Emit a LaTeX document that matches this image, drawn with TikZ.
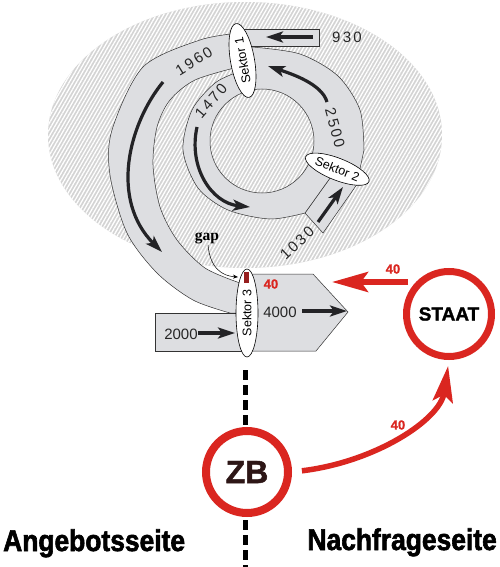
\documentclass[tikz,border=0pt]{standalone}
\usepackage{fontspec}
\setmainfont{Liberation Sans}
\newfontfamily\numfont[LetterSpace=15]{Liberation Sans}
\newfontfamily\plainfont{Liberation Sans}
\newfontfamily\heavyfont[FakeStretch=0.88,BoldFeatures={FakeBold=2}]{Liberation Sans}
\newfontfamily\thickfont[BoldFeatures={FakeBold=1.5}]{Liberation Sans}
\newfontfamily\gapfont{Liberation Serif}
\usetikzlibrary{arrows.meta,patterns.meta,shapes.geometric}
\definecolor{bandgray}{RGB}{221,222,225}
\definecolor{hatchbase}{RGB}{212,212,212}
\definecolor{arrdark}{RGB}{35,35,38}
\definecolor{redc}{RGB}{218,38,32}
\definecolor{markred}{RGB}{150,30,30}
\definecolor{zbtext}{RGB}{45,22,22}
\begin{document}
\begin{tikzpicture}[x=1pt,y=-1pt,
  band/.style={fill=bandgray,draw=black!80,line width=0.5pt},
  darr/.style={draw=arrdark,line width=3.2pt,-{Stealth[length=17pt,width=11pt,inset=4pt]}},
  sektor/.style={ellipse,draw=black,fill=white,line width=0.6pt,inner sep=0pt,
    font=\plainfont\fontsize{12.5}{14}\selectfont},
  num/.style={font=\numfont\fontsize{15}{18}\selectfont,text=black!85,inner sep=0pt},
  num2/.style={font=\plainfont\fontsize{15}{18}\selectfont,text=black!85,inner sep=0pt},
  redlab/.style={font=\thickfont\bfseries\fontsize{13}{15}\selectfont,text=redc,inner sep=0pt},
  redcircle/.style={circle,draw=redc,fill=white,inner sep=0pt},
  redarr/.style={draw=redc,line width=5.5pt,-{Stealth[length=36pt,width=20pt,inset=7pt]}},
  side/.style={font=\heavyfont\bfseries\fontsize{30}{36}\selectfont,inner sep=0pt}]
\path[use as bounding box,fill=white] (0,0) rectangle (500,567);
% hatched background
\fill[hatchbase] (245,135) ellipse [x radius=197pt,y radius=133pt];
\path[pattern={Lines[angle=60,distance=3.2pt,line width=1.3pt]},pattern color=white]
  (245,135) ellipse [x radius=197pt,y radius=133pt];
% 1030 strip
\draw[band] (334,172.5) -- (305,213) -- (323,233) -- (360,180) -- cycle;
% inner ring
\draw[band,even odd rule] (242,61) -- plot[smooth] coordinates {(252,47) (300,54) (338,76) (360,110) (364,150)}
  -- (358,178) -- (334,172.5)
  -- plot[smooth] coordinates {(305,213) (270,219) (228,210) (198,188) (183,150) (192,110) (215,83) (238,72)}
  -- cycle
  (262,141) circle [radius=52pt];
% 930 input
\draw[band] (240,29) rectangle (319,46);
% 1960 band
\draw[band] plot[smooth] coordinates {(240,33) (200,40) (143,67) (112,130) (110,175) (127,233) (157,273) (193,300) (230,313)}
  -- (242,313) -- (242,283)
  -- plot[smooth] coordinates {(240,283) (205,268) (177,240) (160,207) (153,165) (157,127) (170,100) (195,80) (238,67)}
  -- cycle;
% 2000 input and 4000 output
\draw[band] (155,313) rectangle (246,351);
\draw[band] (246,274) -- (313,274) -- (348,312) -- (316,351) -- (246,351) -- cycle;
% flow arrows
\draw[darr] (163,82) .. controls (128,125) and (110,200) .. (162,252);
\draw[darr] (197,127) .. controls (188,168) and (212,203) .. (250,207);
\draw[darr] (327,102) .. controls (322,84) and (292,74) .. (268,66);
\draw[darr] (318,222) -- (343,187);
\draw[darr] (313,37) -- (266,37);
\draw[darr] (198,333) -- (235,333);
\draw[darr] (302,311) -- (347,311);
% sectors
\node[sektor,rotate=100,minimum width=75pt,minimum height=24pt] (s1) at (242.5,60.5) {Sektor 1};
\node[sektor,rotate=-21.5,minimum width=68pt,minimum height=22pt] (s2) at (337.3,169.2) {Sektor 2};
\node[sektor,rotate=90,minimum width=88pt,minimum height=22pt] (s3) at (247,313) {Sektor 3};
\fill[markred] (244.3,271.7) rectangle (248.7,283.3);
% numbers
\node[num,rotate=32] at (194,61) {1960};
\node[num,rotate=49] at (211,101) {1470};
\node[num,rotate=-75] at (335,128) {2500};
\node[num,rotate=43] at (297,243) {1030};
\node[num] at (347,37) {930};
\node[num2] at (181,334) {2000};
\node[num2] at (280,312) {4000};
% gap
\node[font=\gapfont\bfseries\fontsize{15.5}{17}\selectfont,inner sep=1pt] (gap) at (207,238) {gap};
\draw[line width=0.5pt,-{Stealth[length=5pt,width=4pt]}] ([xshift=1pt]gap.south) .. controls (210,268) and (222,276) .. (238,277);
% dashed divider
\coordinate (dtop) at (245.5,370);
\coordinate (dbot) at (245.5,567);
\draw[line width=5.5pt,dash pattern=on 10pt off 5pt] (dtop) -- (dbot);
% STAAT and ZB
\node[redcircle,minimum size=85pt,line width=7pt,font=\thickfont\bfseries\fontsize{19}{22}\selectfont] (staat) at (449,314) {STAAT};
\node[redcircle,minimum size=82pt,line width=8pt,text=zbtext,font=\thickfont\bfseries\fontsize{32}{36}\selectfont] (zb) at (247,472) {ZB};
\coordinate (sout) at (408,282);
\coordinate (ptip) at (332,282);
\draw[redarr] (sout) -- (ptip);
\draw[redarr,shorten <=10pt,shorten >=6pt] (zb.east) .. controls (375,462) and (440,420) .. (staat.south);
\node[redlab] at (271,284) {40};
\node[redlab] at (393,269) {40};
\node[redlab] at (398,425) {40};
% side labels
\node[side,anchor=base west] at (3,551) {Angebotsseite};
\node[side,anchor=base east] at (497,550) {Nachfrageseite};
\end{tikzpicture}
\end{document}
